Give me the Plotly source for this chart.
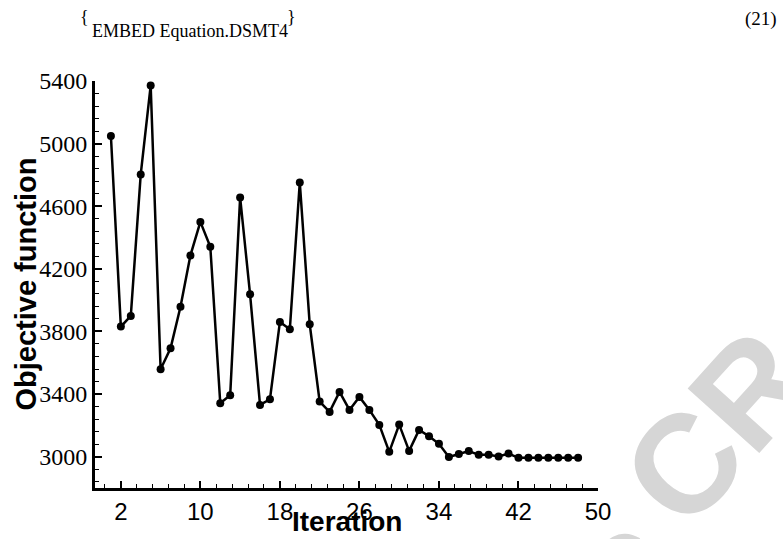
import plotly.graph_objects as go

iterations = list(range(1, 49))
objective = [5049, 3831, 3899, 4803, 5371, 3559, 3693, 3958, 4286, 4500,
             4341, 3342, 3393, 4656, 4037, 3331, 3367, 3861, 3814, 4752,
             3846, 3352, 3286, 3414, 3299, 3382, 3299, 3203, 3031, 3205,
             3037, 3171, 3131, 3082, 2998, 3017, 3036, 3012, 3012, 3001,
             3020, 2993, 2993, 2993, 2993, 2993, 2993, 2993]
x_ticks = [2, 10, 18, 26, 34, 42, 50]
y_ticks = [3000, 3400, 3800, 4200, 4600, 5000, 5400]

W, H = 783, 539
L, R, T, B = 95, 598, 81, 488
def px(x):
    return (x - L) / (R - L)
def py(y):
    return (B - y) / (B - T)

fig = go.Figure()
fig.add_trace(go.Scatter(
    x=iterations, y=objective, mode="lines+markers",
    line=dict(color="black", width=2.5),
    marker=dict(color="black", size=8),
    showlegend=False, cliponaxis=False))

fig.update_layout(
    width=W, height=H,
    margin=dict(l=L, r=W - R, t=T, b=H - B, pad=0),
    paper_bgcolor="white", plot_bgcolor="white",
    xaxis=dict(range=[-0.6, 50], tickvals=x_ticks, ticktext=[str(v) for v in x_ticks],
               showgrid=False, zeroline=False, showline=True, linecolor="black", linewidth=3,
               ticks="inside", ticklen=7, tickwidth=1.5, tickcolor="black",
               minor=dict(tick0=2, dtick=1.6, ticks="inside", ticklen=4, tickwidth=1, tickcolor="black"),
               tickfont=dict(family="Liberation Sans", size=24, color="black")),
    yaxis=dict(range=[2800, 5400], tickvals=y_ticks, ticktext=[str(v) for v in y_ticks],
               showgrid=False, zeroline=False, showline=True, linecolor="black", linewidth=3,
               ticks="inside", ticklen=7, tickwidth=1.5, tickcolor="black",
               minor=dict(tick0=3000, dtick=80, ticks="inside", ticklen=4, tickwidth=1, tickcolor="black"),
               tickfont=dict(family="Liberation Serif", size=24, color="black")),
)

serif = "Liberation Serif"
wm = dict(family="Liberation Sans", size=140, color="#d6d6d6")
anns = [
    dict(text="<b>S</b>", x=px(632), y=py(584), textangle=-48, font=wm),
    dict(text="<b>C</b>", x=px(683), y=py(465), textangle=-48, font=wm),
    dict(text="<b>R</b>", x=px(750), y=py(390), textangle=-48, font=wm),
    dict(text="<b>Objective function</b>", x=px(25), y=0.5, textangle=-90,
         font=dict(family="Liberation Sans", size=29, color="black")),
    dict(text="<b>Iteration</b>", x=0.5, y=py(521),
         font=dict(family="Liberation Sans", size=28, color="black")),
    dict(text="{", x=px(84), y=py(17),
         font=dict(family=serif, size=18, color="black")),
    dict(text="EMBED Equation.DSMT4", x=px(190), y=py(31),
         font=dict(family=serif, size=18, color="black")),
    dict(text="}", x=px(291), y=py(17),
         font=dict(family=serif, size=18, color="black")),
    dict(text="(21)", x=px(761), y=py(19),
         font=dict(family=serif, size=19, color="black")),
]
for a in anns:
    fig.add_annotation(xref="paper", yref="paper", showarrow=False,
                       xanchor="center", yanchor="middle", **a)

fig.write_html("out.html")
